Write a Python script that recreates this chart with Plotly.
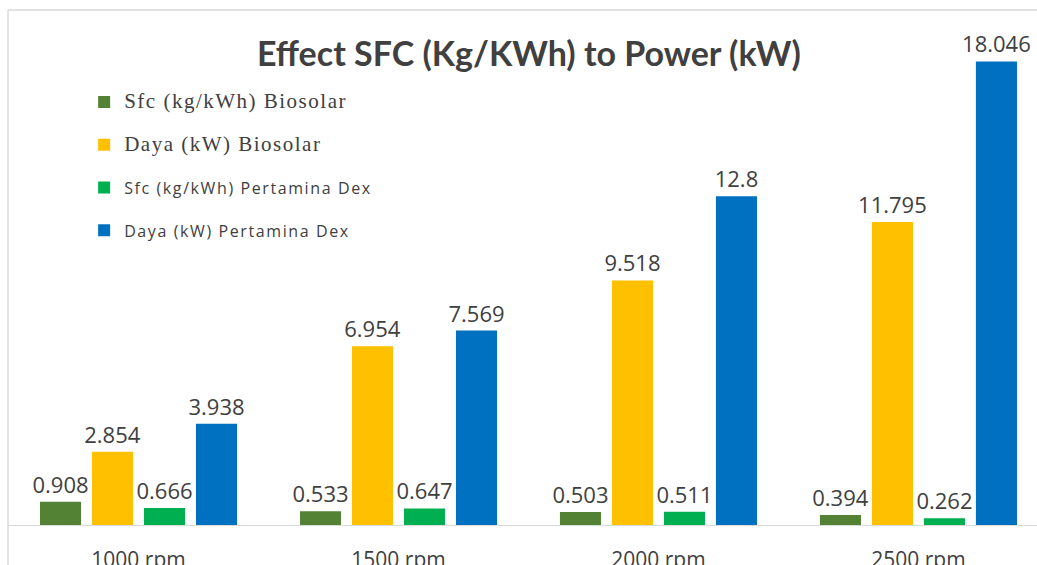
import plotly.graph_objects as go

categories = ["1000 rpm", "1500 rpm", "2000 rpm", "2500 rpm"]
sfc_biosolar = [0.908, 0.533, 0.503, 0.394]
daya_biosolar = [2.854, 6.954, 9.518, 11.795]
sfc_dex = [0.666, 0.647, 0.511, 0.262]
daya_dex = [3.938, 7.569, 12.8, 18.046]

serif = "font-family:'Liberation Serif';font-size:21px;letter-spacing:1.5px"
sans = "font-family:'Open Sans';font-size:16px;letter-spacing:1.6px"
series_names = [
    f'<span style="{serif}">Sfc (kg/kWh) Biosolar</span>',
    f'<span style="{serif}">Daya (kW) Biosolar</span>',
    f'<span style="{sans}">Sfc (kg/kWh) Pertamina Dex</span>',
    f'<span style="{sans}">Daya (kW) Pertamina Dex</span>',
]
series_values = [sfc_biosolar, daya_biosolar, sfc_dex, daya_dex]
colors = ["#548235", "#FFC000", "#00B050", "#0070C0"]

fig = go.Figure()
for i, (name, vals, col) in enumerate(zip(series_names, series_values, colors)):
    fig.add_trace(go.Bar(
        x=categories, y=vals, name=name, legendgroup=f"g{i}",
        marker=dict(color=col, line=dict(width=0)),
        text=[f"{v:g}" for v in vals], textposition="outside",
        constraintext="none",
        textfont=dict(family="Open Sans", size=22, color="#404040"),
        cliponaxis=False,
    ))

fig.update_layout(
    width=1037, height=565,
    margin=dict(l=8, r=0, t=10, b=40, autoexpand=False),
    paper_bgcolor="white", plot_bgcolor="white",
    barmode="group", bargap=0.2, bargroupgap=0.21,
    title=dict(text="<b>Effect SFC (Kg/KWh) to Power (kW)</b>",
               x=0.51, xanchor="center", y=1 - 54 / 565, yanchor="middle",
               font=dict(family="Lato", size=34, color="#404040")),
    showlegend=True,
    legend=dict(x=0.074, y=1 - 75 / 515, xanchor="left", yanchor="top",
                traceorder="grouped", tracegroupgap=19,
                bgcolor="rgba(0,0,0,0)",
                font=dict(family="Open Sans", size=16, color="#404040")),
    xaxis=dict(range=[-0.502, 3.456], showgrid=False, showline=True,
               linecolor="#D9D9D9", linewidth=1, ticks="",
               automargin=False, ticklabelstandoff=16,
               tickfont=dict(family="Open Sans", size=21, color="#404040")),
    yaxis=dict(range=[0, 515 / 25.69], visible=False, showgrid=False,
               automargin=False),
    shapes=[
        dict(type="line", xref="paper", yref="paper", x0=0, x1=1, y0=1, y1=1,
             line=dict(color="#D9D9D9", width=1.5)),
        dict(type="line", xref="paper", yref="paper", x0=0, x1=0, y0=-0.1, y1=1,
             line=dict(color="#D9D9D9", width=1.5)),
    ],
)

fig.write_html(
    "out.html",
    config={"displayModeBar": False},
    post_script="document.body.style.margin='0';document.body.style.overflow='hidden';",
)
